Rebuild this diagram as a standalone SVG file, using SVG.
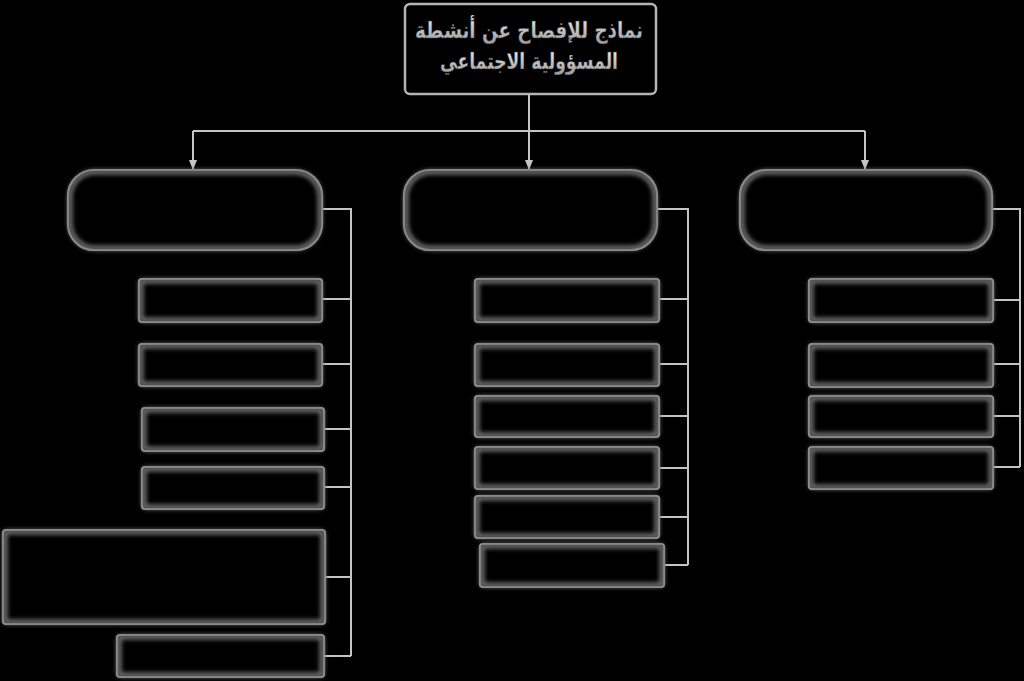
<svg xmlns="http://www.w3.org/2000/svg" width="1024" height="681" viewBox="0 0 1024 681">
<defs>
<style>
.bx{fill:#000;stroke:#a0a0a0;stroke-width:2.2}
.rt{fill:#000;stroke:#b4b4b4;stroke-width:2.5}
.gl{fill:none;stroke:#707070;stroke-width:5;filter:url(#blur)}
.cn{fill:none;stroke:#c4c4c4;stroke-width:2}
.t{font-family:"DejaVu Sans",sans-serif;font-weight:bold;font-size:23px;text-anchor:middle;fill:url(#tg);stroke:#444;stroke-width:0.4}
</style>
<filter id="blur" x="-5%" y="-20%" width="110%" height="140%"><feGaussianBlur stdDeviation="2.2"/></filter>
<linearGradient id="tg" x1="0" y1="0" x2="0" y2="1"><stop offset="0" stop-color="#f2f2f2"/><stop offset="1" stop-color="#9a9a9a"/></linearGradient>
<marker id="ar" markerWidth="10" markerHeight="8" refX="9" refY="4" orient="auto" markerUnits="userSpaceOnUse"><path d="M0,0 L10,4 L0,8 z" fill="#c4c4c4"/></marker>
</defs>
<rect width="1024" height="681" fill="#000"/>
<g id="connectors">
<path class="cn" d="M529,94 V131 M193,131 H865"/>
<path class="cn" d="M193,131 V169" marker-end="url(#ar)"/>
<path class="cn" d="M529,131 V169" marker-end="url(#ar)"/>
<path class="cn" d="M865,131 V169" marker-end="url(#ar)"/>
<path class="cn" d="M322,209 H351 V656 M322,299 H351 M322,364 H351 M324,429 H351 M324,487 H351 M325,577 H351 M324,656 H351"/>
<path class="cn" d="M657,209 H688 V565 M659,299 H688 M659,364 H688 M659,416 H688 M659,468 H688 M659,517 H688 M664,565 H688"/>
<path class="cn" d="M992,209 H1020 V467 M993,300 H1020 M993,364 H1020 M993,416 H1020 M993,467 H1020"/>
</g>
<g id="root">
<rect class="rt" x="405" y="4" width="251" height="90" rx="5"/>
<text class="t" x="529" y="38" textLength="228" lengthAdjust="spacingAndGlyphs">نماذج للإفصاح عن أنشطة</text>
<text class="t" x="529" y="69" textLength="178" lengthAdjust="spacingAndGlyphs">المسؤولية الاجتماعي</text>
</g>
<g id="l2-left"><rect class="bx" x="68" y="170" width="254" height="80" rx="26"/><rect class="gl" x="70" y="172" width="250" height="76" rx="25"/></g>
<g id="l2-mid"><rect class="bx" x="404" y="170" width="253" height="80" rx="26"/><rect class="gl" x="406" y="172" width="249" height="76" rx="25"/></g>
<g id="l2-right"><rect class="bx" x="740" y="170" width="252" height="80" rx="26"/><rect class="gl" x="742" y="172" width="248" height="76" rx="25"/></g>
<g id="left-1"><rect class="bx" x="139" y="279" width="183" height="43" rx="3"/><rect class="gl" x="141" y="281" width="179" height="39" rx="2"/></g>
<g id="left-2"><rect class="bx" x="139" y="344" width="183" height="42" rx="3"/><rect class="gl" x="141" y="346" width="179" height="38" rx="2"/></g>
<g id="left-3"><rect class="bx" x="142" y="408" width="182" height="43" rx="3"/><rect class="gl" x="144" y="410" width="178" height="39" rx="2"/></g>
<g id="left-4"><rect class="bx" x="142" y="467" width="182" height="42" rx="3"/><rect class="gl" x="144" y="469" width="178" height="38" rx="2"/></g>
<g id="left-5"><rect class="bx" x="3" y="530" width="322" height="94" rx="3"/><rect class="gl" x="5" y="532" width="318" height="90" rx="2"/></g>
<g id="left-6"><rect class="bx" x="117" y="635" width="207" height="42" rx="3"/><rect class="gl" x="119" y="637" width="203" height="38" rx="2"/></g>
<g id="mid-1"><rect class="bx" x="475" y="279" width="184" height="43" rx="3"/><rect class="gl" x="477" y="281" width="180" height="39" rx="2"/></g>
<g id="mid-2"><rect class="bx" x="475" y="344" width="184" height="42" rx="3"/><rect class="gl" x="477" y="346" width="180" height="38" rx="2"/></g>
<g id="mid-3"><rect class="bx" x="475" y="396" width="184" height="41" rx="3"/><rect class="gl" x="477" y="398" width="180" height="37" rx="2"/></g>
<g id="mid-4"><rect class="bx" x="475" y="447" width="184" height="42" rx="3"/><rect class="gl" x="477" y="449" width="180" height="38" rx="2"/></g>
<g id="mid-5"><rect class="bx" x="475" y="496" width="184" height="42" rx="3"/><rect class="gl" x="477" y="498" width="180" height="38" rx="2"/></g>
<g id="mid-6"><rect class="bx" x="480" y="544" width="184" height="43" rx="3"/><rect class="gl" x="482" y="546" width="180" height="39" rx="2"/></g>
<g id="right-1"><rect class="bx" x="809" y="279" width="184" height="43" rx="3"/><rect class="gl" x="811" y="281" width="180" height="39" rx="2"/></g>
<g id="right-2"><rect class="bx" x="809" y="344" width="184" height="43" rx="3"/><rect class="gl" x="811" y="346" width="180" height="39" rx="2"/></g>
<g id="right-3"><rect class="bx" x="809" y="396" width="184" height="41" rx="3"/><rect class="gl" x="811" y="398" width="180" height="37" rx="2"/></g>
<g id="right-4"><rect class="bx" x="809" y="447" width="184" height="42" rx="3"/><rect class="gl" x="811" y="449" width="180" height="38" rx="2"/></g>
</svg>
